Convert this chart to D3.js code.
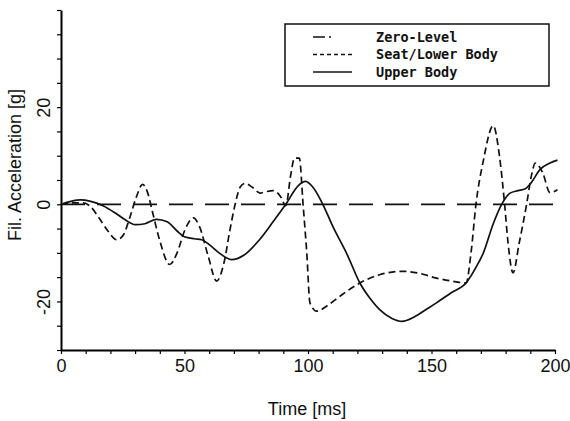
<!DOCTYPE html>
<html>
<head>
<meta charset="utf-8">
<script src="https://cdn.jsdelivr.net/npm/d3@7"></script>
<style>
  html, body { margin: 0; padding: 0; background: #fff; }
  svg { display: block; }
</style>
</head>
<body>
<svg id="chart" width="570" height="421"></svg>
<script>
// values: time [ms] / acceleration [g]
const upperT = [0, 4, 8, 12, 17, 22, 26, 30, 34, 38.7, 43, 47, 50, 54, 57, 60, 64, 69, 74, 80, 86, 91, 96, 99, 102, 106, 110, 116, 121, 125, 129, 134, 138, 143, 148, 152, 158, 164, 168, 171, 175, 178.4, 181.8, 185, 188, 190, 194, 198, 201];
const upperV = [0, 0.6, 0.9, 0.6, -0.3, -1.8, -3.2, -4.2, -4.0, -3.1, -3.6, -5.5, -6.7, -7.1, -7.3, -8.3, -10.0, -11.4, -10.5, -7.5, -3.5, 0, 3.8, 4.7, 3.5, 0, -4.5, -10.5, -16.2, -19.3, -21.7, -23.5, -24.1, -23.2, -21.6, -20.3, -18.2, -16.2, -13, -10, -4, 0, 2.3, 2.8, 3.2, 4.2, 7.2, 8.5, 9.1];

const seatT = [0, 5, 9, 12, 15, 19, 22.5, 25, 28, 30.5, 33, 35, 37, 40, 44, 47, 50, 53.6, 56, 59.5, 63, 66, 68.5, 70.5, 72.5, 74.5, 77.5, 80.6, 83, 86, 89, 91, 93, 94.5, 96.5, 98, 99.5, 100.8, 103.5, 108, 113, 121, 129, 138.6, 145, 152, 158, 164, 166, 168, 171, 175, 177.5, 179.6, 181, 183, 185.5, 188.5, 190.5, 192, 195, 198, 201];
const seatV = [0, 0.3, 0.3, -0.5, -2.5, -5.5, -7.3, -6.5, -2.5, 1.5, 4.1, 2.5, -1.5, -7.5, -12.4, -10, -5.5, -2.8, -4.5, -10.5, -15.8, -12, -5, 0, 3.5, 4.3, 3.5, 2.3, 2.6, 2.8, 1.5, -0.3, 6, 9.5, 9.5, 0, -10, -20.3, -22, -20.8, -18.9, -16.2, -14.5, -13.8, -14.2, -15.2, -15.8, -16.2, -10, 0, 9, 16.2, 10, 0, -8, -14.1, -8, 0, 6, 8.5, 6.5, 2.4, 3];

const zeroT = [0, 201];
const zeroV = [0, 0];

const xTicks = [0, 10, 20, 30, 40, 50, 60, 70, 80, 90, 100, 110, 120, 130, 140, 150, 160, 170, 180, 190, 200];
const xLabels = [0, 50, 100, 150, 200];
const yTicks = [-30, -25, -20, -15, -10, -5, 0, 5, 10, 15, 20, 25, 30, 35, 40];
const yLabels = [-20, 0, 20];

const legendNames = ['Zero-Level', 'Seat/Lower Body', 'Upper Body'];

const svg = d3.select('#chart');
const FONT = '"Liberation Sans", Arial, sans-serif';

const x = d3.scaleLinear().domain([0, 200]).range([61, 555]);
const y = d3.scaleLinear().domain([-30, 40]).range([350, 10]);

// axes
const gx = svg.append('g').attr('transform', `translate(0,${y(-30)})`)
  .call(d3.axisBottom(x).tickValues(xTicks).tickSize(4).tickSizeOuter(0)
    .tickFormat(d => xLabels.includes(d) ? d : ''));
gx.select('.domain').attr('stroke-width', 2);
gx.selectAll('.tick line').attr('stroke-width', 1.2);
gx.selectAll('.tick text').attr('font-family', FONT).attr('font-size', 18).attr('fill', '#111').attr('dy', '0.85em');

const gy = svg.append('g').attr('transform', `translate(${x(0)},0)`)
  .call(d3.axisLeft(y).tickValues(yTicks).tickSize(4).tickSizeOuter(0)
    .tickFormat(d => yLabels.includes(d) ? d : ''));
gy.select('.domain').attr('stroke-width', 2);
gy.selectAll('.tick line').attr('stroke-width', 1.2);
gy.selectAll('.tick text')
  .attr('font-family', FONT).attr('font-size', 18).attr('fill', '#111')
  .attr('text-anchor', 'middle').attr('x', 0).attr('dy', 0)
  .attr('transform', 'translate(-11,0) rotate(-90)');

// titles
svg.append('text').attr('x', 307).attr('y', 415)
  .attr('text-anchor', 'middle').attr('font-family', FONT).attr('font-size', 18).attr('fill', '#111')
  .text('Time [ms]');
svg.append('text').attr('transform', 'translate(21,165) rotate(-90)')
  .attr('text-anchor', 'middle').attr('font-family', FONT).attr('font-size', 18).attr('fill', '#111')
  .text('Fil. Acceleration [g]');

// curves
const line = d3.line().x(d => x(d[0])).y(d => y(d[1])).curve(d3.curveMonotoneX);
const zip = (a, b) => a.map((t, i) => [t, b[i]]);

svg.append('path').datum(zip(zeroT, zeroV)).attr('d', line)
  .attr('fill', 'none').attr('stroke', '#111').attr('stroke-width', 1.7).attr('stroke-dasharray', '24 12');
svg.append('path').datum(zip(seatT, seatV)).attr('d', line)
  .attr('fill', 'none').attr('stroke', '#111').attr('stroke-width', 1.7).attr('stroke-dasharray', '7 4');
svg.append('path').datum(zip(upperT, upperV)).attr('d', line)
  .attr('fill', 'none').attr('stroke', '#111').attr('stroke-width', 1.7);

// legend
const lg = svg.append('g');
lg.append('rect').attr('x', 285).attr('y', 24).attr('width', 264).attr('height', 62)
  .attr('fill', '#fff').attr('stroke', '#111').attr('stroke-width', 1.5);
const dashes = ['12 4 2 40', '4 3', null];
legendNames.forEach((name, i) => {
  const yy = 37 + i * 17.5;
  const l = lg.append('line').attr('x1', 313).attr('x2', 352).attr('y1', yy).attr('y2', yy)
    .attr('stroke', '#111').attr('stroke-width', 1.3);
  if (dashes[i]) l.attr('stroke-dasharray', dashes[i]);
  lg.append('text').attr('x', 376).attr('y', yy).attr('dy', '0.35em')
    .attr('font-family', '"DejaVu Sans Mono", "Liberation Mono", monospace').attr('font-size', 13.5)
    .attr('font-weight', 'bold').attr('fill', '#111').text(name);
});
</script>
</body>
</html>
